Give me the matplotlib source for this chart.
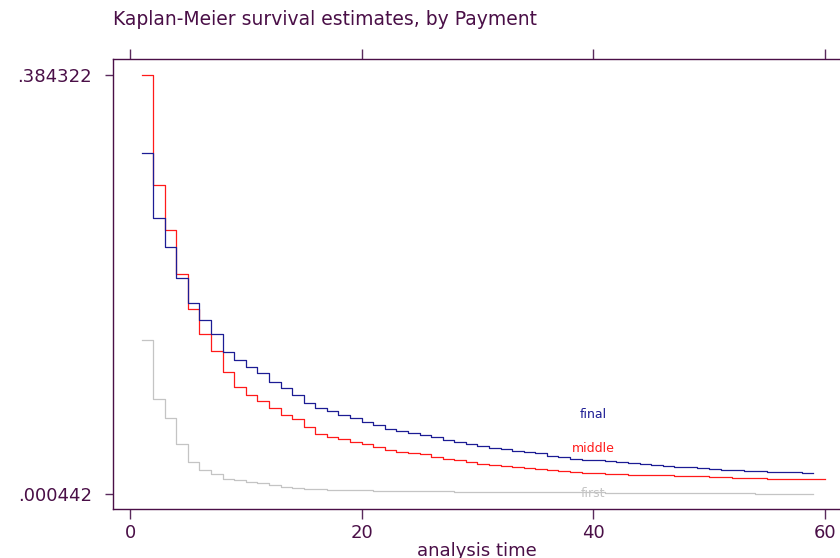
import numpy as np
import matplotlib
matplotlib.use('Agg')
import matplotlib.pyplot as plt

# Kaplan-Meier survival estimates, one value per unit of time, starting at t=1
surv_final = [0.3126, 0.2530, 0.2267, 0.1986, 0.1757, 0.1603, 0.1468, 0.1308, 0.1229, 0.1171,
              0.1110, 0.1033, 0.0973, 0.0914, 0.0841, 0.0795, 0.0765, 0.0728, 0.0703, 0.0667,
              0.0634, 0.0603, 0.0579, 0.0566, 0.0548, 0.0524, 0.0499, 0.0478, 0.0465, 0.0447,
              0.0429, 0.0417, 0.0398, 0.0389, 0.0377, 0.0353, 0.0343, 0.0325, 0.0316, 0.0313,
              0.0304, 0.0295, 0.0286, 0.0277, 0.0270, 0.0258, 0.0252, 0.0252, 0.0243, 0.0236,
              0.0227, 0.0221, 0.0218, 0.0212, 0.0209, 0.0203, 0.0203, 0.0201]
surv_middle = [0.384322, 0.2838, 0.2426, 0.2017, 0.1702, 0.1473, 0.1312, 0.1125, 0.0985, 0.0911,
               0.0854, 0.0790, 0.0731, 0.0689, 0.0621, 0.0554, 0.0529, 0.0508, 0.0484, 0.0463,
               0.0438, 0.0403, 0.0392, 0.0380, 0.0368, 0.0341, 0.0328, 0.0313, 0.0295, 0.0279,
               0.0270, 0.0261, 0.0252, 0.0243, 0.0233, 0.0224, 0.0215, 0.0206, 0.0197, 0.0197,
               0.0190, 0.0188, 0.0178, 0.0178, 0.0176, 0.0176, 0.0169, 0.0169, 0.0167, 0.0160,
               0.0157, 0.0151, 0.0148, 0.0148, 0.0142, 0.0142, 0.0142, 0.0142, 0.0139]
surv_first = [0.1413, 0.0875, 0.0698, 0.0460, 0.0300, 0.0227, 0.0185, 0.0145, 0.0130, 0.0117,
              0.0105, 0.0087, 0.0071, 0.0062, 0.0050, 0.0047, 0.0041, 0.0041, 0.0041, 0.0038,
              0.0033, 0.0033, 0.0031, 0.0031, 0.0031, 0.0031, 0.0031, 0.0023, 0.0023, 0.0023,
              0.0023, 0.0023, 0.0023, 0.0023, 0.0023, 0.0023, 0.0023, 0.0023, 0.0023, 0.0023,
              0.0011, 0.0011, 0.0011, 0.0011, 0.0011, 0.0011, 0.0011, 0.0011, 0.0011, 0.0011,
              0.0010, 0.0010, 0.0010, 0.0009, 0.0009, 0.0008, 0.0008, 0.0008]

groups = ['first', 'middle', 'final']
group_colors = {'first': '#c4c4c4', 'middle': '#ff1a1a', 'final': '#1c1c94'}
label_pos = {'first': (40, 0.0010), 'middle': (40, 0.0425), 'final': (40, 0.0735)}

y_ticks = [0.000442, 0.384322]
y_ticklabels = ['.000442', '.384322']
x_ticks = [0, 20, 40, 60]

ink = '#4a0f47'
spine_col = '#5a2a5c'

fig = plt.figure(figsize=(8.4, 5.58), dpi=100)
ax = fig.add_axes([113/840, 49/558, 728/840, 450/558])

for g, vals in zip(groups, [surv_first, surv_middle, surv_final]):
    t = np.arange(1, len(vals) + 2)
    s = np.append(vals, vals[-1])
    ax.step(t, s, where='post', color=group_colors[g], lw=0.9)
    ax.text(label_pos[g][0], label_pos[g][1], g, color=group_colors[g],
            ha='center', va='center', fontsize=9)

ax.set_xlim(-1.47, 61.4)
ax.set_ylim(-0.0133, 0.399)

ax.set_xticks(x_ticks)
ax.set_yticks(y_ticks)
ax.set_yticklabels(y_ticklabels)
ax.tick_params(axis='x', which='both', top=True, bottom=True, labeltop=False,
               direction='out', length=7, width=1, color=spine_col,
               labelsize=13, labelcolor=ink, pad=3.5)
ax.tick_params(axis='y', direction='out', length=6, width=1, color=spine_col,
               labelsize=13, labelcolor=ink, pad=9)

for side in ['left', 'top', 'bottom']:
    ax.spines[side].set_color(ink)
    ax.spines[side].set_linewidth(1)
ax.spines['right'].set_visible(False)

ax.set_xlabel('analysis time', fontsize=13, color=ink, labelpad=0)
fig.text(113/840, 1 - 25/558, 'Kaplan-Meier survival estimates, by Payment',
         fontsize=13.5, color=ink, ha='left', va='baseline')

fig.savefig('out.png', dpi=100)
